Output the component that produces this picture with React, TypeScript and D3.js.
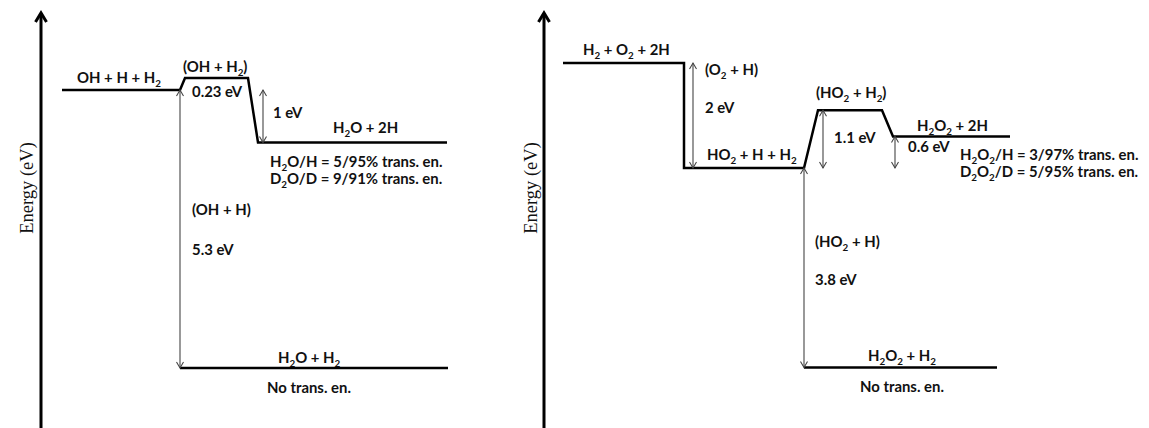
import React from "react";
import * as d3 from "d3";

// ---------- DATA (energies in eV, relative to each panel's initial state) ----------
const leftStates = ["OH + H + H_2", "(OH + H_2)", "H_2O + 2H", "H_2O + H_2"];
const leftEnergies = [0, 0.23, -1, -5.3];
const leftGapLabels = ["0.23 eV", "1 eV", "5.3 eV"];
const leftChannel = "(OH + H)";
const leftBranching = ["H_2O/H = 5/95% trans. en.", "D_2O/D = 9/91% trans. en."];

const rightStates = ["H_2 + O_2 + 2H", "HO_2 + H + H_2", "(HO_2 + H_2)", "H_2O_2 + 2H", "H_2O_2 + H_2"];
const rightEnergies = [0, -2, -0.9, -1.4, -5.8];
const rightGapLabels = ["2 eV", "1.1 eV", "0.6 eV", "3.8 eV"];
const rightChannels = ["(O_2 + H)", "(HO_2 + H)"];
const rightBranching = ["H_2O_2/H = 3/97% trans. en.", "D_2O_2/D = 5/95% trans. en."];

const bottomNote = "No trans. en.";
const axisTitle = "Energy (eV)";

// ---------- LAYOUT ----------
const W = 1149;
const H = 428;
const FONT = "Lato, 'Open Sans', sans-serif";
const FS = 14.9;

const yLeft = d3.scaleLinear().domain([0, -5.3]).range([90, 368]);
const yRight = d3.scaleLinear().domain([0, -5.8]).range([63, 367.5]);

function Chem({ x, y, text, anchor = "start", size = FS }: any) {
  const parts = text.split(/(_\d)/).filter((p: string) => p.length > 0);
  let shifted = false;
  const children: any[] = [];
  parts.forEach((p: string, i: number) => {
    if (p.startsWith("_")) {
      children.push(
        <tspan key={i} dy={shifted ? 0 : 4} fontSize={size * 0.66}>
          {p.slice(1)}
        </tspan>
      );
      shifted = true;
    } else {
      children.push(
        <tspan key={i} dy={shifted ? -4 : 0}>
          {p}
        </tspan>
      );
      shifted = false;
    }
  });
  return (
    <text x={x} y={y} textAnchor={anchor} fontFamily={FONT} fontWeight={700} fontSize={size} fill="#111">
      {children}
    </text>
  );
}

function DArrow({ x, y1, y2, color = "#444" }: any) {
  const top = Math.min(y1, y2);
  const bot = Math.max(y1, y2);
  const hw = 3.5;
  const hl = 6;
  return (
    <g stroke={color} strokeWidth={1.1} fill="none">
      <line x1={x} x2={x} y1={top} y2={bot} />
      <polyline points={`${x - hw},${top + hl} ${x},${top} ${x + hw},${top + hl}`} />
      <polyline points={`${x - hw},${bot - hl} ${x},${bot} ${x + hw},${bot - hl}`} />
    </g>
  );
}

function Axis({ x }: any) {
  return (
    <g stroke="#000" fill="none">
      <line x1={x} x2={x} y1={13} y2={H} strokeWidth={3} />
      <polyline points={`${x - 5.5},${22} ${x},${13} ${x + 5.5},${22}`} strokeWidth={3} strokeLinejoin="miter" />
    </g>
  );
}

export default function App() {
  const line = d3.line<[number, number]>().x((d) => d[0]).y((d) => d[1]);

  // left pathway
  const L = leftEnergies.map((e) => yLeft(e));
  const leftPath: [number, number][] = [
    [62, L[0]], [180, L[0]], [185, L[1]], [248, L[1]], [258, L[2]], [447, L[2]],
  ];
  const leftBottom: [number, number][] = [[180, L[3]], [448, L[3]]];

  // right pathway
  const R = rightEnergies.map((e) => yRight(e));
  const rightPath: [number, number][] = [
    [563, R[0]], [684, R[0]], [684, R[1]], [804, R[1]], [818, R[2]], [882, R[2]], [893, R[3]], [1010, R[3]],
  ];
  const rightBottom: [number, number][] = [[804, R[4]], [997, R[4]]];

  return (
    <svg width={W} height={H} style={{ position: "fixed", left: 0, top: 0, background: "#fff" }}>
      <rect width={W} height={H} fill="#fff" />
      {/* axes */}
      <Axis x={41} />
      <Axis x={544} />
      <text transform={`translate(33,${188}) rotate(-90)`} textAnchor="middle" fontFamily="'Liberation Serif', 'Times New Roman', serif" fontSize={18.5} fill="#111">
        {axisTitle}
      </text>
      <text transform={`translate(537,${188}) rotate(-90)`} textAnchor="middle" fontFamily="'Liberation Serif', 'Times New Roman', serif" fontSize={18.5} fill="#111">
        {axisTitle}
      </text>

      {/* left levels */}
      <path d={line(leftPath) || ""} fill="none" stroke="#000" strokeWidth={2.5} strokeLinejoin="miter" />
      <path d={line(leftBottom) || ""} fill="none" stroke="#000" strokeWidth={2.5} />
      <DArrow x={180} y1={L[0]} y2={L[3]} />
      <DArrow x={263} y1={L[0]} y2={L[2]} />

      <Chem x={77} y={83} text={leftStates[0]} />
      <Chem x={183} y={72} text={leftStates[1]} />
      <Chem x={192} y={97} text={leftGapLabels[0]} />
      <Chem x={273} y={118} text={leftGapLabels[1]} />
      <Chem x={333} y={133} text={leftStates[2]} />
      <Chem x={270} y={167} text={leftBranching[0]} />
      <Chem x={270} y={184} text={leftBranching[1]} />
      <Chem x={192} y={215} text={leftChannel} />
      <Chem x={192} y={255} text={leftGapLabels[2]} />
      <Chem x={278} y={363} text={leftStates[3]} />
      <Chem x={267} y={393} text={bottomNote} />

      {/* right levels */}
      <path d={line(rightPath) || ""} fill="none" stroke="#000" strokeWidth={2.5} strokeLinejoin="miter" />
      <path d={line(rightBottom) || ""} fill="none" stroke="#000" strokeWidth={2.5} />
      <DArrow x={693} y1={R[0]} y2={R[1]} />
      <DArrow x={823} y1={R[2]} y2={R[1]} />
      <DArrow x={895} y1={R[3]} y2={R[1]} />
      <DArrow x={804} y1={R[1]} y2={R[4]} />

      <Chem x={583} y={55} text={rightStates[0]} />
      <Chem x={705} y={75} text={rightChannels[0]} />
      <Chem x={705} y={113} text={rightGapLabels[0]} />
      <Chem x={707} y={160} text={rightStates[1]} />
      <Chem x={816} y={98} text={rightStates[2]} />
      <Chem x={834} y={143} text={rightGapLabels[1]} />
      <Chem x={917} y={131} text={rightStates[3]} />
      <Chem x={908} y={152} text={rightGapLabels[2]} />
      <Chem x={960} y={160} text={rightBranching[0]} />
      <Chem x={960} y={177} text={rightBranching[1]} />
      <Chem x={815} y={247} text={rightChannels[1]} />
      <Chem x={815} y={285} text={rightGapLabels[3]} />
      <Chem x={868} y={361} text={rightStates[4]} />
      <Chem x={860} y={392} text={bottomNote} />
    </svg>
  );
}
